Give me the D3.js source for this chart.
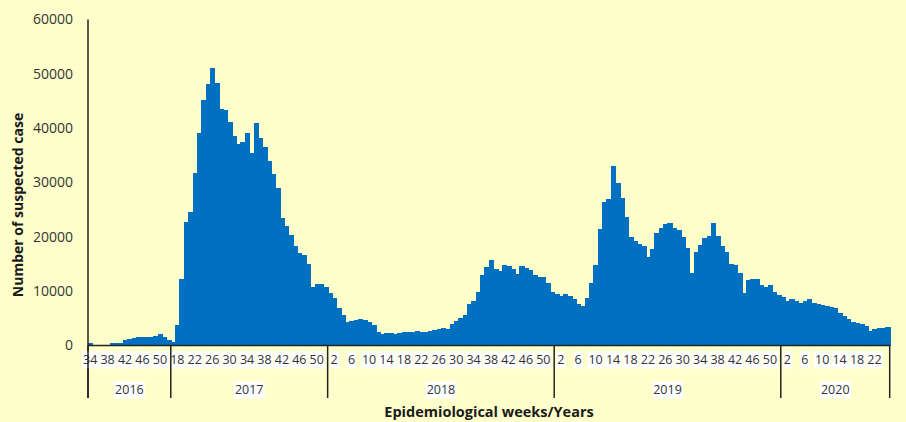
<!DOCTYPE html>
<html>
<head>
  <title>Suspected cases by epidemiological week</title>
  <style>
    body { margin: 0; background: #ffffcc; }
    #chart { width: 906px; height: 422px; }
    text { font-family: "Open Sans", "Liberation Sans", sans-serif; }
  </style>
  <script src="https://d3js.org/d3.v7.min.js"></script>
</head>
<body>
  <div id="chart"></div>

  <script>
    // Weekly suspected cases, one array per year
    var years = ["2016", "2017", "2018", "2019", "2020"];
    var firstWeek = [34, 17, 1, 1, 1];

    var cases2016 = [400, 0, 0, 0, 0, 400, 400, 480, 1040, 1130, 1310, 1620, 1550, 1500, 1570, 1780, 2030, 1480, 1080];
    var cases2017 = [730, 3800, 12200, 22700, 24500, 31800, 39100, 45200, 48100, 51000, 48400, 43500,
                     43400, 41200, 38500, 37000, 37400, 39100, 35400, 41000, 38200, 36500, 34000, 31600,
                     28900, 23400, 22000, 20400, 18300, 17000, 16600, 15000, 10800, 11400, 11400, 10700];
    var cases2018 = [9650, 8750, 6850, 5700, 4400, 4600, 4650, 4880, 4700, 4330, 3850, 2400, 2180,
                     2300, 2330, 2060, 2360, 2480, 2430, 2400, 2640, 2570, 2560, 2700, 2920, 2980,
                     3220, 3070, 4020, 4450, 5000, 5620, 7550, 8160, 9910, 12920, 14460, 15690, 14150,
                     13780, 14830, 14670, 14120, 13200, 14640, 14210, 13840, 12920, 12520, 12680, 11450, 9910];
    var cases2019 = [9490, 9120, 9420, 9180, 8500, 7640, 7280, 8690, 11450, 14830, 21460, 26490, 26920,
                     33070, 30000, 27080, 23730, 19920, 19200, 18760, 18260, 16210, 17710, 20780, 21700, 22400,
                     22550, 21580, 21200, 20000, 17900, 13410, 17280, 18450, 19720, 20100, 22550, 20100, 18260,
                     17130, 14930, 14870, 13350, 9730, 12060, 12250, 12250, 11200, 10830, 11050, 9920, 9240];
    var cases2020 = [8900, 8200, 8500, 8260, 7800, 8200, 8500, 7900, 7640, 7460, 7200, 7030, 6850,
                     6000, 5500, 4900, 4250, 4080, 4000, 3600, 2600, 3100, 3280, 3280, 3350];

    var yTicks = [0, 10000, 20000, 30000, 40000, 50000, 60000];

    var seriesByYear = [cases2016, cases2017, cases2018, cases2019, cases2020];

    // flatten into one row per week
    var rows = [];
    seriesByYear.forEach(function(values, yi) {
      values.forEach(function(v, k) {
        var wk = firstWeek[yi] + k;
        rows.push({ year: years[yi], week: wk, value: v, key: years[yi] + "-" + wk });
      });
    });

    var W = 906, H = 422;
    var plotL = 88, plotR = 889.7, plotT = 19.5, plotB = 345.5;

    var svg = d3.select("#chart").append("svg")
      .attr("width", W)
      .attr("height", H);

    svg.append("rect").attr("width", W).attr("height", H).attr("fill", "#ffffcc");

    var x = d3.scaleBand()
      .domain(rows.map(function(d) { return d.key; }))
      .range([plotL, plotR])
      .padding(0);

    var y = d3.scaleLinear()
      .domain([0, 60000])
      .range([plotB, plotT]);

    // bars (widened a little so neighbours overlap and no seams show)
    svg.append("g")
      .attr("shape-rendering", "crispEdges")
      .selectAll("rect")
      .data(rows)
      .enter()
      .append("rect")
      .attr("x", function(d) { return x(d.key); })
      .attr("width", x.bandwidth() + 1)
      .attr("y", function(d) { return y(d.value); })
      .attr("height", function(d) { return plotB - y(d.value); })
      .attr("fill", "#0070c0");

    // y axis
    var yAxis = svg.append("g")
      .attr("transform", "translate(" + plotL + ",0)")
      .call(d3.axisLeft(y).tickValues(yTicks).tickSize(0).tickPadding(15).tickFormat(d3.format("d")));
    yAxis.select(".domain").remove();
    yAxis.selectAll("text")
      .style("font-size", "14px")
      .attr("fill", "#333");

    svg.append("line")
      .attr("x1", plotL).attr("x2", plotL)
      .attr("y1", plotT).attr("y2", 398)
      .attr("stroke", "#222").attr("stroke-width", 1.5);

    // x baseline
    svg.append("line")
      .attr("x1", plotL).attr("x2", plotR)
      .attr("y1", plotB).attr("y2", plotB)
      .attr("stroke", "#222").attr("stroke-width", 1.5);

    // week labels: every 4th category
    var labelled = rows.filter(function(d, i) { return i % 4 === 0; });
    var xAxis = svg.append("g")
      .attr("transform", "translate(0," + plotB + ")")
      .call(d3.axisBottom(x)
        .tickValues(labelled.map(function(d) { return d.key; }))
        .tickFormat(function(k) { return k.split("-")[1]; })
        .tickSize(0).tickPadding(10));
    xAxis.select(".domain").remove();
    xAxis.selectAll("text")
      .style("font-size", "12.5px")
      .attr("fill", "#333");
    xAxis.selectAll(".tick").each(function() {
      var t = d3.select(this).select("text");
      var b = t.node().getBBox();
      d3.select(this).insert("rect", "text")
        .attr("x", b.x - 1).attr("y", b.y)
        .attr("width", b.width + 2).attr("height", b.height)
        .attr("fill", "#ffffff");
    });

    // year separators and labels
    var yearStarts = years.map(function(yr, yi) { return yr + "-" + firstWeek[yi]; });
    var bounds = yearStarts.map(function(k) { return x(k); }).concat([plotR]);

    svg.append("g").selectAll("line")
      .data(bounds)
      .enter()
      .append("line")
      .attr("x1", function(d) { return d; })
      .attr("x2", function(d) { return d; })
      .attr("y1", plotB)
      .attr("y2", 398)
      .attr("stroke", "#222")
      .attr("stroke-width", 1.5);

    var yearG = svg.append("g").selectAll("g")
      .data(years)
      .enter()
      .append("g");
    yearG.append("text")
      .attr("x", function(d, i) { return (bounds[i] + bounds[i + 1]) / 2; })
      .attr("y", 390)
      .attr("dy", "0.35em")
      .attr("text-anchor", "middle")
      .style("font-size", "12.5px")
      .attr("fill", "#333")
      .text(function(d) { return d; });
    yearG.each(function() {
      var t = d3.select(this).select("text");
      var b = t.node().getBBox();
      d3.select(this).insert("rect", "text")
        .attr("x", b.x - 1).attr("y", b.y)
        .attr("width", b.width + 2).attr("height", b.height)
        .attr("fill", "#ffffff");
    });

    // axis titles
    svg.append("text")
      .attr("x", 489)
      .attr("y", 412)
      .attr("dy", "0.35em")
      .attr("text-anchor", "middle")
      .style("font-size", "14.5px")
      .style("font-weight", "bold")
      .attr("fill", "#1a1a1a")
      .text("Epidemiological weeks/Years");

    svg.append("text")
      .attr("transform", "translate(18,205) rotate(-90)")
      .attr("dy", "0.35em")
      .attr("text-anchor", "middle")
      .style("font-size", "14px")
      .style("font-weight", "bold")
      .attr("fill", "#1a1a1a")
      .text("Number of suspected case");
  </script>
</body>
</html>
